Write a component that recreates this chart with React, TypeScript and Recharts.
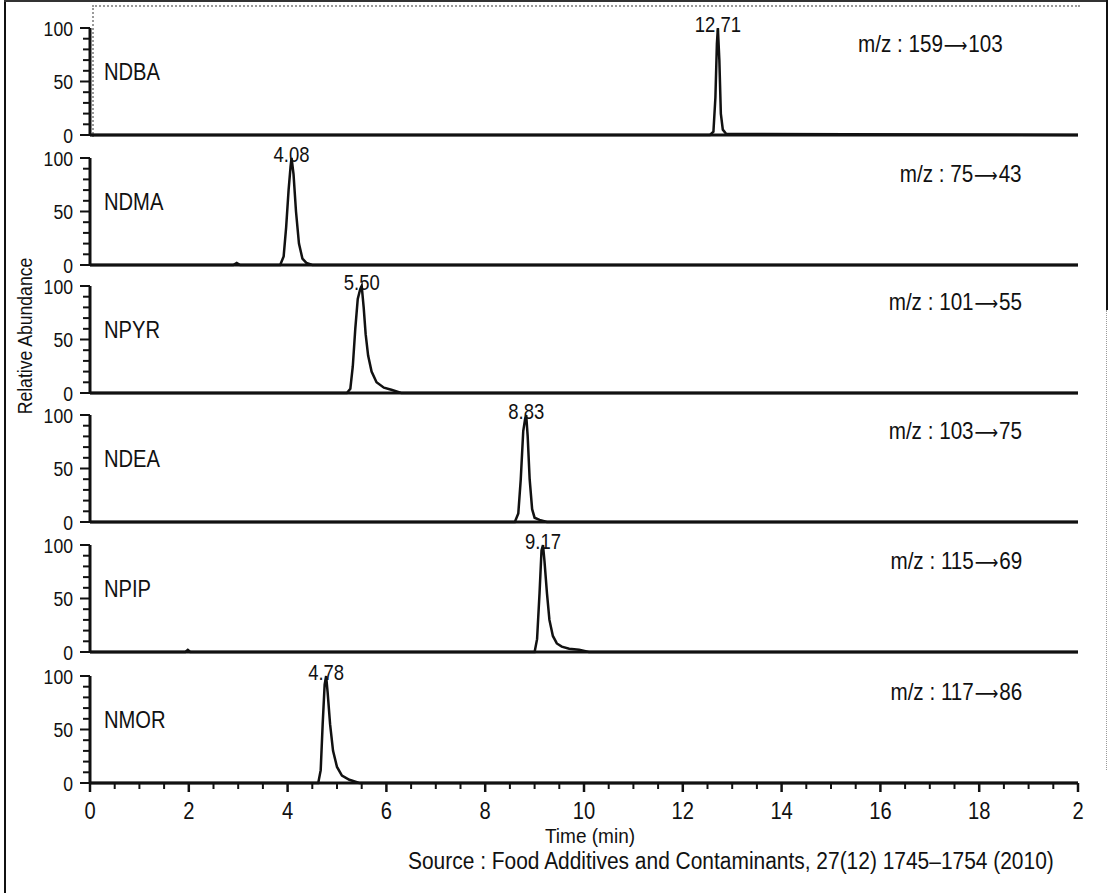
import { LineChart, Line, XAxis, YAxis, LabelList } from "recharts";

// compound names, MRM transitions and apex labels, top panel first
const compounds = ["NDBA", "NDMA", "NPYR", "NDEA", "NPIP", "NMOR"];
const precursors = ["159", "75", "101", "103", "115", "117"];
const products = ["103", "43", "55", "75", "69", "86"];
const apexLabels = ["12.71", "4.08", "5.50", "8.83", "9.17", "4.78"];

// retention time (min) / relative abundance (%)
const ndbaTime = [0, 12.55, 12.62, 12.66, 12.69, 12.71, 12.74, 12.77, 12.81, 12.88, 20];
const ndbaAbund = [0, 0, 3, 35, 85, 100, 70, 20, 5, 1, 0];

const ndmaTime = [0, 2.9, 2.97, 3.04, 3.85, 3.92, 3.97, 4.02, 4.06, 4.08, 4.12, 4.17, 4.23, 4.3, 4.38, 4.5, 20];
const ndmaAbund = [0, 0, 2, 0, 0, 8, 35, 70, 92, 100, 85, 50, 20, 6, 2, 0, 0];

const npyrTime = [0, 5.2, 5.27, 5.32, 5.37, 5.42, 5.47, 5.5, 5.54, 5.58, 5.63, 5.7, 5.8, 5.95, 6.1, 6.3, 20];
const npyrAbund = [0, 0, 4, 25, 60, 88, 97, 100, 80, 55, 35, 20, 10, 5, 3, 0, 0];

const ndeaTime = [0, 8.6, 8.67, 8.72, 8.77, 8.81, 8.83, 8.86, 8.9, 8.95, 9.0, 9.1, 9.25, 20];
const ndeaAbund = [0, 0, 8, 40, 85, 97, 100, 80, 40, 12, 4, 2, 0, 0];

const npipTime = [0, 1.93, 1.98, 2.03, 9.0, 9.05, 9.1, 9.14, 9.17, 9.2, 9.25, 9.3, 9.37, 9.45, 9.55, 9.7, 9.9, 10.1, 20];
const npipAbund = [0, 0, 2, 0, 0, 12, 55, 95, 100, 85, 55, 30, 15, 8, 5, 3, 2, 0, 0];

const nmorTime = [0, 4.62, 4.67, 4.71, 4.75, 4.78, 4.81, 4.86, 4.92, 5.0, 5.1, 5.25, 5.45, 20];
const nmorAbund = [0, 0, 12, 55, 92, 100, 85, 55, 30, 15, 7, 3, 0, 0];

const traceTimes = [ndbaTime, ndmaTime, npyrTime, ndeaTime, npipTime, nmorTime];
const traceAbunds = [ndbaAbund, ndmaAbund, npyrAbund, ndeaAbund, npipAbund, nmorAbund];

// axis ticks
const xMajorTicks = [0, 2, 4, 6, 8, 10, 12, 14, 16, 18, 20];
const xTickLabels = ["0", "2", "4", "6", "8", "10", "12", "14", "16", "18", "2"];
const yMajorTicks = [0, 50, 100];

const xAllTicks: number[] = [];
for (let t = 0; t <= 20; t += 0.5) xAllTicks.push(t);
const yAllTicks: number[] = [];
for (let v = 0; v <= 100; v += 10) yAllTicks.push(v);

// layout (page px)
const W = 1113;
const PLOT_LEFT = 90;
const PLOT_RIGHT = 1078;
const SPAN = 107;
const TOP_PAD = 24;
const AXIS_PAD = 14;
const baselines = [135, 265, 393, 522, 652, 783];

// scanned figure uses a narrow grotesque: squeeze Liberation Sans
const FONT = '"Liberation Sans", Arial, sans-serif';
const ARROW_FONT = '"DejaVu Sans", sans-serif';
const SQUEEZE = 0.84;
const INK = "#111";

function SvgText({ x, y, size, anchor = "middle", children }: any) {
  return (
    <text
      transform={`translate(${x},${y}) scale(${SQUEEZE},1)`}
      textAnchor={anchor}
      dominantBaseline="central"
      fontSize={size}
      fill={INK}
      fontFamily={FONT}
    >
      {children}
    </text>
  );
}

function HtmlText({ left, right, top, size, children, center = false, squeeze = SQUEEZE }: any) {
  const origin = center ? "50% 50%" : right !== undefined ? "100% 50%" : "0 50%";
  return (
    <div
      style={{
        position: "absolute",
        left,
        right,
        top,
        transform: `translate(${center ? "-50%" : "0"}, -50%) scaleX(${squeeze})`,
        transformOrigin: origin,
        whiteSpace: "nowrap",
        fontFamily: FONT,
        fontSize: size,
        lineHeight: 1,
        color: INK,
      }}
    >
      {children}
    </div>
  );
}

function XTick(props: any) {
  const { x, y, payload } = props;
  const i = xMajorTicks.indexOf(payload.value);
  const major = i >= 0;
  return (
    <g>
      <line x1={x} x2={x} y1={y} y2={y + (major ? 9 : 6)} stroke={INK} strokeWidth={major ? 2.5 : 2} />
      {major && (
        <SvgText x={x} y={y + 28} size={24}>
          {xTickLabels[i]}
        </SvgText>
      )}
    </g>
  );
}

function YTick(props: any) {
  const { x, y, payload } = props;
  const major = yMajorTicks.includes(payload.value);
  return (
    <g>
      <line x1={x - (major ? 10 : 7)} x2={x} y1={y} y2={y} stroke={INK} strokeWidth={2} />
      {major && (
        <SvgText x={x - 17} y={y} size={21} anchor="end">
          {payload.value}
        </SvgText>
      )}
    </g>
  );
}

function Transition({ idx }: { idx: number }) {
  const text = (
    <>
      m/z : {precursors[idx]}
      <span style={{ fontFamily: ARROW_FONT, fontSize: "0.8em", margin: "0 1px" }}>⟶</span>
      {products[idx]}
    </>
  );
  // the NDBA trace was pasted from another run: its label sits further left
  return idx === 0 ? (
    <HtmlText left={858} top={TOP_PAD + 16} size={24} squeeze={0.86}>
      {text}
    </HtmlText>
  ) : (
    <HtmlText right={W - 1022} top={TOP_PAD + 16} size={24} squeeze={0.86}>
      {text}
    </HtmlText>
  );
}

function Panel({ idx }: { idx: number }) {
  const last = idx === compounds.length - 1;
  const data = traceTimes[idx].map((t, i) => ({ t, v: traceAbunds[idx][i] }));
  const peakIdx = traceAbunds[idx].indexOf(100);
  const axisH = last ? 70 : AXIS_PAD;
  const base = baselines[idx];

  return (
    <div style={{ position: "absolute", left: 0, top: base - SPAN - TOP_PAD, width: W }}>
      <LineChart
        width={W}
        height={TOP_PAD + SPAN + axisH}
        data={data}
        margin={{ top: TOP_PAD, right: W - PLOT_RIGHT, left: 0, bottom: 0 }}
      >
        <XAxis
          dataKey="t"
          type="number"
          domain={[0, 20]}
          ticks={last ? xAllTicks : []}
          interval={0}
          height={axisH}
          tickSize={0}
          tickMargin={0}
          tick={last ? <XTick /> : false}
          axisLine={{ stroke: INK, strokeWidth: 3 }}
        />
        <YAxis
          type="number"
          domain={[0, 100]}
          ticks={yAllTicks}
          interval={0}
          width={PLOT_LEFT}
          tickSize={0}
          tickMargin={0}
          tick={<YTick />}
          axisLine={{ stroke: INK, strokeWidth: 3 }}
        />
        <Line
          dataKey="v"
          type="linear"
          stroke={INK}
          strokeWidth={2.5}
          dot={false}
          isAnimationActive={false}
        >
          <LabelList
            dataKey="v"
            content={(p: any) =>
              p.index === peakIdx ? (
                <SvgText x={p.x} y={p.y - 4} size={22}>
                  {apexLabels[idx]}
                </SvgText>
              ) : null
            }
          />
        </Line>
      </LineChart>
      <HtmlText left={104} top={TOP_PAD + SPAN * 0.41} size={24}>
        {compounds[idx]}
      </HtmlText>
      <Transition idx={idx} />
    </div>
  );
}

export default function App() {
  return (
    <div
      style={{
        position: "absolute",
        left: 0,
        top: 0,
        width: W,
        height: 893,
        background: "#fff",
        overflow: "hidden",
      }}
    >
      {/* scanned page frame */}
      <div style={{ position: "absolute", left: 4, top: 0, width: 2, height: 893, background: INK }} />
      <div style={{ position: "absolute", left: 4, top: 0, width: 1104, height: 2, background: "#333" }} />
      <div style={{ position: "absolute", left: 1106, top: 0, width: 2, height: 310, background: INK }} />
      <div style={{ position: "absolute", left: 1106, top: 310, width: 0, height: 460, borderLeft: "1px dotted #999" }} />
      {/* grey frame of the top panel */}
      <div
        style={{
          position: "absolute",
          left: 92,
          top: 5,
          width: PLOT_RIGHT - 92,
          height: 130,
          borderTop: "2px dotted #9a9a9a",
          borderLeft: "2px dotted #9a9a9a",
        }}
      />
      {compounds.map((_, i) => (
        <Panel key={i} idx={i} />
      ))}
      <div
        style={{
          position: "absolute",
          left: 25,
          top: 336,
          transform: "translate(-50%, -50%) rotate(-90deg) scaleX(0.88)",
          whiteSpace: "nowrap",
          fontFamily: FONT,
          fontSize: 20,
          lineHeight: 1,
          color: INK,
        }}
      >
        Relative Abundance
      </div>
      <HtmlText left={590} top={836} size={20} squeeze={0.95} center>
        Time (min)
      </HtmlText>
      <HtmlText left={408} top={861} size={23} squeeze={0.91}>
        Source : Food Additives and Contaminants, 27(12) 1745–1754 (2010)
      </HtmlText>
    </div>
  );
}
